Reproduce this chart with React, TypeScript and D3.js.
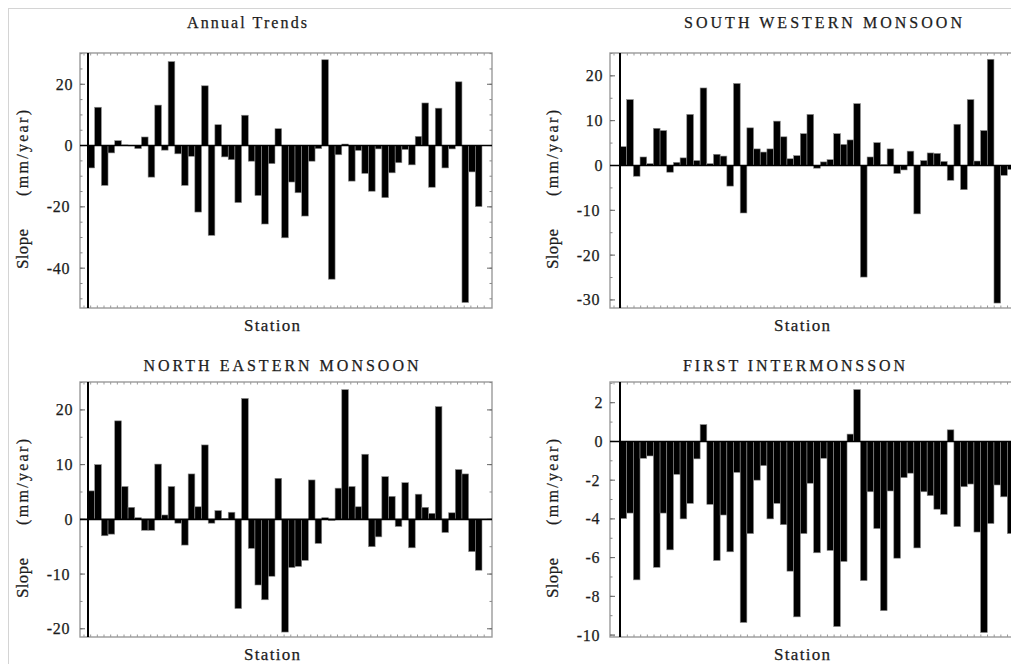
import React, { useEffect, useRef } from "react";
import * as d3 from "d3";

// station index along the x axis (59 stations)
const stations = d3.range(1, 60);

const annualTrends = [
  -7.3, 12.5, -13, -2.4, 1.6, 0.2, -0.1, -1, 2.8, -10.3, 13.2, -1.5, 27.4, -2.7, -13,
  -3.5, -21.7, 19.5, -29.3, 6.8, -3.7, -4.6, -18.6, 9.9, -5.1, -16.3, -25.6, -5.9, 5.5,
  -30.1, -11.9, -15.4, -23, -5.1, -1, 28, -43.6, -3, 0.5, -11.6, -1.6, -9.1, -14.9,
  -1.1, -17, -8.9, -5.6, -1.3, -6.3, 3, 13.9, -13.6, 12.2, -7.3, -1.1, 20.8, -51.2,
  -8.6, -19.9,
];

const southWestern = [
  4.2, 14.7, -2.4, 1.9, 0.4, 8.3, 7.8, -1.5, 0.7, 1.7, 11.4, 1.1, 17.3, 0.4, 2.5, 2.1,
  -4.6, 18.3, -10.6, 8.4, 3.7, 3, 3.7, 9.9, 6.4, 1.5, 2.2, 7.1, 11.4, -0.6, 0.8, 1.3,
  7.1, 4.7, 5.7, 13.8, -24.9, 1.9, 5.1, 0.2, 3.7, -1.8, -1, 3.2, -10.8, 1.1, 2.8, 2.7,
  0.9, -3.3, 9.2, -5.4, 14.7, 1, 7.8, 23.7, -30.7, -2.2, -0.9,
];

const northEastern = [
  5.2, 10, -3, -2.7, 18, 6, 2.2, 0.3, -2, -2, 10.1, 0.8, 6, -0.7, -4.7, 8.3, 2.3, 13.6,
  -0.7, 1.6, 0.1, 1.3, -16.3, 22.1, -5.3, -12, -14.7, -10.4, 7.5, -20.6, -8.8, -8.6,
  -7.5, 7.2, -4.4, 0.3, -0.2, 5.7, 23.7, 6, 2.3, 11.9, -5, -3.2, 7.8, 4.2, -1.3, 6.7,
  -5.2, 4.6, 2.2, 1.1, 20.6, -2.4, 1.2, 9.1, 8.3, -5.9, -9.3,
];

const firstInter = [
  -3.98, -3.7, -7.15, -0.87, -0.75, -6.5, -3.7, -5.6, -1.7, -4, -3.2, -0.9, 0.87, -3.25,
  -6.15, -3.8, -5.7, -1.6, -9.35, -4.76, -2, -1.25, -4, -3.2, -4.3, -6.7, -9.06, -4.76,
  -2.16, -5.75, -0.87, -5.63, -9.56, -6.2, 0.38, 2.68, -7.19, -2.6, -4.5, -8.74, -2.56,
  -6.03, -1.87, -1.64, -5.5, -2.6, -2.8, -3.5, -3.77, 0.6, -4.4, -2.34, -2.2, -4.68,
  -9.87, -4.24, -2.25, -2.86, -4.76,
];

const annualTicks = [20, 0, -20, -40];
const swTicks = [20, 10, 0, -10, -20, -30];
const neTicks = [20, 10, 0, -10, -20];
const fiTicks = [2, 0, -2, -4, -6, -8, -10];

const xLabel = "Station";
const yLabelA = "Slope";
const yLabelB = "(mm/year)";

const panels = [
  { title: "Annual Trends", values: annualTrends, ticks: annualTicks, minorStep: 5, domain: [-53, 30.2],
    frame: [80, 53, 492, 308], axisX: 88, titleX: 247, titleW: 120, titleY: 28 },
  { title: "SOUTH WESTERN MONSOON", values: southWestern, ticks: swTicks, minorStep: 5, domain: [-31.8, 25.1],
    frame: [610, 53, 1022, 308], axisX: 620, titleX: 823, titleW: 278, titleY: 28 },
  { title: "NORTH EASTERN MONSOON", values: northEastern, ticks: neTicks, minorStep: 5, domain: [-21.5, 25.1],
    frame: [80, 382, 492, 637], axisX: 88, titleX: 281, titleW: 275, titleY: 371 },
  { title: "FIRST INTERMONSSON", values: firstInter, ticks: fiTicks, minorStep: 1, domain: [-10.1, 3.07],
    frame: [610, 382, 1022, 637], axisX: 620, titleX: 794, titleW: 222, titleY: 371 },
];

const FONT = "Liberation Serif, Times New Roman, DejaVu Serif, serif";
const INK = "#1c1c1c";

const App: React.FC = () => {
  const svgRef = useRef<SVGSVGElement | null>(null);

  useEffect(() => {
    if (!svgRef.current) return;
    const svg = d3.select(svgRef.current);
    svg.selectAll("*").remove();

    // page border
    svg.append("rect")
      .attr("x", 8.5).attr("y", 8.5).attr("width", 1100).attr("height", 800)
      .attr("fill", "none").attr("stroke", "#d4d4d4");

    panels.forEach(p => {
      const [x0, y0, x1, y1] = p.frame;
      const g = svg.append("g");

      const y = d3.scaleLinear().domain(p.domain).range([y1, y0]);
      const x = d3.scaleBand<number>().domain(stations).range([p.axisX, p.axisX + 394]).padding(0);

      // bars
      g.selectAll("rect.bar")
        .data(p.values)
        .join("rect")
        .attr("class", "bar")
        .attr("x", (_, i) => x(stations[i]) as number)
        .attr("width", x.bandwidth())
        .attr("y", d => y(Math.max(0, d)))
        .attr("height", d => Math.abs(y(d) - y(0)))
        .attr("fill", "#000")
        .attr("stroke", "#8c8c8c")
        .attr("stroke-width", 0.6);

      // frame
      g.append("rect")
        .attr("x", x0).attr("y", y0).attr("width", x1 - x0).attr("height", y1 - y0)
        .attr("fill", "none").attr("stroke", "#9a9a9a").attr("stroke-width", 1.4);

      // top / bottom small ticks
      const xt = d3.range(0, 80).map(i => x0 + 4 + i * 6.67).filter(v => v < x1 - 2);
      g.selectAll("line.xt")
        .data(xt)
        .join("line")
        .attr("x1", d => d).attr("x2", d => d)
        .attr("y1", y0).attr("y2", y0 + 2.5)
        .attr("stroke", "#999").attr("stroke-width", 1);
      g.selectAll("line.xb")
        .data(xt)
        .join("line")
        .attr("x1", d => d).attr("x2", d => d)
        .attr("y1", y1).attr("y2", y1 - 2.5)
        .attr("stroke", "#999").attr("stroke-width", 1);

      // y ticks on left and right edges
      const minor = d3.range(Math.ceil(p.domain[0] / p.minorStep) * p.minorStep, p.domain[1], p.minorStep);
      [x0, x1].forEach((ex, side) => {
        const dir = side === 0 ? 1 : -1;
        g.selectAll(`line.mn${side}`)
          .data(minor)
          .join("line")
          .attr("x1", ex).attr("x2", ex + dir * 2.5)
          .attr("y1", d => y(d)).attr("y2", d => y(d))
          .attr("stroke", "#888").attr("stroke-width", 1);
        g.selectAll(`line.mj${side}`)
          .data(p.ticks)
          .join("line")
          .attr("x1", ex).attr("x2", ex + dir * 5)
          .attr("y1", d => y(d)).attr("y2", d => y(d))
          .attr("stroke", "#666").attr("stroke-width", 1);
      });

      // zero line and y axis line
      g.append("line")
        .attr("x1", x0).attr("x2", x1).attr("y1", y(0)).attr("y2", y(0))
        .attr("stroke", "#000").attr("stroke-width", 1.6);
      g.append("line")
        .attr("x1", p.axisX).attr("x2", p.axisX).attr("y1", y0).attr("y2", y1)
        .attr("stroke", "#000").attr("stroke-width", 2);

      const styleText = (t: d3.Selection<SVGTextElement, any, any, any>, size: number) =>
        t.attr("font-family", FONT)
          .attr("font-size", size)
          .attr("fill", INK)
          .attr("stroke", INK)
          .attr("stroke-width", 0.25);

      // tick labels
      styleText(
        g.selectAll<SVGTextElement, number>("text.tl")
          .data(p.ticks)
          .join("text")
          .attr("x", d => (d < 0 ? x0 - 10 : x0 - 7))
          .attr("y", d => y(d) + 5.5)
          .attr("text-anchor", "end")
          .attr("letter-spacing", 0.6)
          .text(d => String(d)),
        16
      );

      // title
      styleText(
        g.append("text")
          .attr("x", p.titleX - p.titleW / 2).attr("y", p.titleY)
          .attr("textLength", p.titleW).attr("lengthAdjust", "spacing")
          .text(p.title),
        16
      );

      // x label
      styleText(
        g.append("text")
          .attr("x", x0 + 192 - 28).attr("y", y1 + 23)
          .attr("textLength", 56).attr("lengthAdjust", "spacing")
          .text(xLabel),
        17
      );

      // y labels (rotated)
      const lx = x0 - 52;
      styleText(
        g.append("text")
          .attr("transform", `translate(${lx},${y0 + 196}) rotate(-90)`)
          .attr("x", -20).attr("y", 0)
          .attr("textLength", 40).attr("lengthAdjust", "spacing")
          .text(yLabelA),
        17
      );
      styleText(
        g.append("text")
          .attr("transform", `translate(${lx},${y0 + 100}) rotate(-90)`)
          .attr("x", -43).attr("y", 0)
          .attr("textLength", 86).attr("lengthAdjust", "spacing")
          .text(yLabelB),
        16
      );
    });
  }, []);

  return (
    <svg
      ref={svgRef}
      width={1011}
      height={664}
      style={{ position: "absolute", left: 0, top: 0, background: "#fff" }}
    />
  );
};

export default App;
